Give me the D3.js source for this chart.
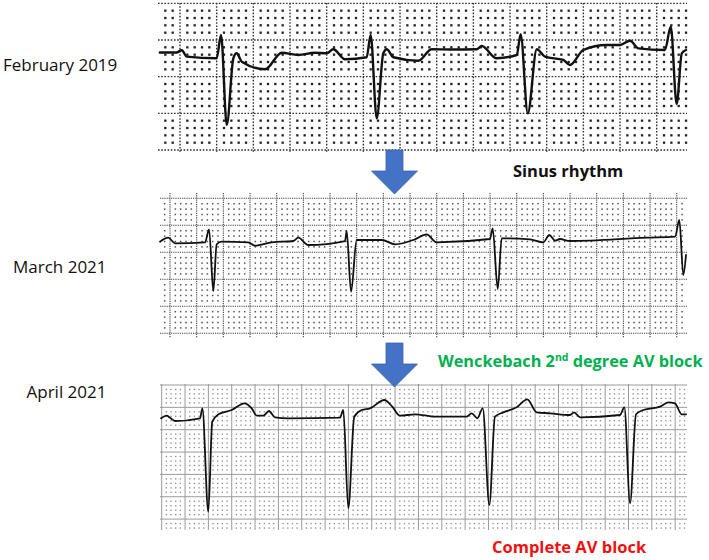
<!DOCTYPE html>
<html><head><meta charset="utf-8">
<script src="https://cdn.jsdelivr.net/npm/d3@7"></script>
<style>body{margin:0;background:#fff}svg{display:block}</style>
</head><body>
<svg id="c" width="709" height="560"></svg>
<script>
// ---- data: ECG traces (time in s, amplitude in mV relative to baseline) ----
const feb2019T = [0.01,0.10,0.13,0.157,0.32,0.344,0.375,0.411,0.429,0.457,0.584,0.675,0.765,0.856,0.92,0.956,1.02,1.138,1.16,1.193,1.229,1.248,1.284,1.42,1.493,1.60,1.738,1.766,1.847,1.957,1.978,2.017,2.066,2.111,2.211,2.247,2.32,2.447,2.52,2.575,2.62,2.765,2.797,2.829,2.857,2.88];
const feb2019V = [0.00,0.00,0.03,-0.057,-0.079,0.239,-0.989,-0.079,-0.011,-0.125,-0.229,-0.003,-0.034,-0.003,-0.011,0.044,-0.093,-0.065,0.239,-0.897,-0.011,0.044,-0.065,-0.112,0.044,0.04,0.044,0.089,-0.079,-0.034,0.248,-0.829,0.044,-0.057,-0.102,-0.170,0.034,0.102,0.102,0.161,0.057,0.034,0.352,-0.702,-0.011,0.034];

const mar2021T = [0.0,0.062,0.113,0.338,0.368,0.40,0.425,0.463,0.662,0.713,0.838,1.0,1.037,1.112,1.388,1.40,1.433,1.475,1.663,1.763,1.913,2.0,2.063,2.075,2.475,2.495,2.533,2.563,2.775,2.875,2.92,2.963,3.0,3.075,3.65,3.863,3.895,3.925,3.945];
const mar2021V = [-0.004,0.070,-0.033,-0.015,0.226,-0.917,-0.052,-0.004,-0.015,-0.078,-0.015,0.009,0.070,-0.065,0.009,0.194,-0.930,0.028,0.028,-0.052,0.041,0.133,-0.004,-0.015,0.046,0.244,-0.880,0.059,0.041,-0.015,0.120,0.015,0.046,0.009,0.070,0.089,0.398,-0.620,-0.250];

const apr2021T = [0.009,0.057,0.086,0.129,0.343,0.363,0.414,0.448,0.50,0.615,0.723,0.786,0.829,0.885,0.934,0.986,1.10,1.543,1.571,1.614,1.665,1.729,1.80,1.923,1.991,2.057,2.186,2.357,2.629,2.672,2.72,2.766,2.823,2.871,2.943,3.057,3.148,3.229,3.343,3.514,3.549,3.60,3.943,3.98,4.029,4.08,4.143,4.286,4.357,4.414,4.471,4.509];
const apr2021V = [-0.029,0.029,-0.016,-0.090,-0.029,0.195,-2.123,-0.105,0.061,0.157,0.307,0.195,0.029,0.029,0.135,-0.007,-0.029,-0.016,0.157,-2.047,0.007,0.157,0.195,0.381,0.231,0.029,0.061,0.007,0.007,0.083,-0.029,0.195,-1.973,0.007,0.105,0.217,0.397,0.105,0.083,0.045,0.105,-0.007,0.045,0.217,-1.935,0.061,0.157,0.231,0.330,0.307,0.061,0.061];

const dateLabels = ["February 2019", "March 2021", "April 2021"];
const rhythmLabels = ["Sinus rhythm", "Wenckebach 2nd degree AV block", "Complete AV block"];

// ---- layout ----
const svg = d3.select("#c");
const panels = [
  {T: feb2019T, V: feb2019V, x0:158, x1:687, y0:3, y1:152, pxs:183.33, pxmv:73.33, base:52.5,
   gx:180, gy:40, sx:36.67, sy:36.67, style:"p1", lw:2.4},
  {T: mar2021T, V: mar2021V, x0:160, x1:687, y0:193, y1:338, pxs:133.33, pxmv:54, base:241.5,
   gx:170, gy:198.3, sx:26.67, sy:27, style:"p2", lw:1.8},
  {T: apr2021T, V: apr2021V, x0:160, x1:687, y0:384, y1:530, pxs:116.67, pxmv:44.6, base:417,
   gx:161.7, gy:385, sx:23.34, sy:22.35, style:"p3", lw:1.8}
];
const gridStyles = {
  p1:{line:"#333", lw:1.4, dash:"1.6,1.6", dot:"#222", ds:2.3},
  p2:{line:"#444", lw:1.1, dash:"1.2,1", dot:"#555", ds:1.5},
  p3:{line:"#9a9a9a", lw:1, dash:null, dot:"#888", ds:1.3}
};

panels.forEach(p => {
  const g = svg.append("g");
  const gs = gridStyles[p.style];
  // scales: time -> x, mV -> y
  const x = d3.scaleLinear().domain([0, (p.x1 - p.x0) / p.pxs]).range([p.x0, p.x1]);
  const y = d3.scaleLinear().domain([(p.base - p.y1) / p.pxmv, (p.base - p.y0) / p.pxmv]).range([p.y1, p.y0]);
  // grid (paper)
  const vx = [], hy = [];
  for (let v = p.gx - Math.ceil((p.gx - p.x0) / p.sx) * p.sx; v <= p.x1 + 0.1; v += p.sx) vx.push(v);
  for (let v = p.gy - Math.ceil((p.gy - p.y0) / p.sy) * p.sy; v <= p.y1 + 0.1; v += p.sy) hy.push(v);
  const dots = [];
  vx.forEach(cx => { for (let i = 1; i < 5; i++) { const xx = cx + i * p.sx / 5; if (xx < p.x0 || xx > p.x1) continue;
    hy.forEach(cy => { for (let j = 1; j < 5; j++) { const yy = cy + j * p.sy / 5; if (yy < p.y0 || yy > p.y1) continue; dots.push([xx, yy]); } }); } });
  g.selectAll("rect.dot").data(dots).join("rect").attr("class","dot")
    .attr("x", d => d[0] - gs.ds/2).attr("y", d => d[1] - gs.ds/2)
    .attr("width", gs.ds).attr("height", gs.ds).attr("fill", gs.dot);
  g.selectAll("line.v").data(vx.filter(v => v >= p.x0 && v <= p.x1)).join("line").attr("class","v")
    .attr("x1", d => d).attr("x2", d => d).attr("y1", p.y0).attr("y2", p.y1)
    .attr("stroke", gs.line).attr("stroke-width", gs.lw).attr("stroke-dasharray", gs.dash);
  g.selectAll("line.h").data(hy.filter(v => v >= p.y0 && v <= p.y1)).join("line").attr("class","h")
    .attr("y1", d => d).attr("y2", d => d).attr("x1", p.x0).attr("x2", p.x1)
    .attr("stroke", gs.line).attr("stroke-width", gs.lw).attr("stroke-dasharray", gs.dash);
  // trace
  const pts = p.T.map((t, i) => [t, p.V[i]]);
  const line = d3.line().x(d => x(d[0])).y(d => y(d[1])).curve(d3.curveMonotoneX);
  g.append("path").attr("d", line(pts)).attr("fill","none").attr("stroke","#111")
    .attr("stroke-width", p.lw).attr("stroke-linejoin","round").attr("stroke-linecap","round");
});

// date labels
const labelPos = [[3, 71], [13, 273], [26.5, 398]];
svg.selectAll("text.date").data(dateLabels).join("text").attr("class","date")
  .attr("x", (d,i) => labelPos[i][0]).attr("y", (d,i) => labelPos[i][1])
  .attr("font-family","'Open Sans', sans-serif").attr("font-size", 17).attr("fill","#111").text(d => d);

// arrows
const arrowTops = [150, 343];
arrowTops.forEach(top => {
  const cx = 394.5;
  const path = d3.path();
  path.moveTo(cx - 8.5, top); path.lineTo(cx + 8.5, top); path.lineTo(cx + 8.5, top + 21);
  path.lineTo(cx + 23, top + 21); path.lineTo(cx, top + 44); path.lineTo(cx - 23, top + 21);
  path.lineTo(cx - 8.5, top + 21); path.closePath();
  svg.append("path").attr("d", path.toString()).attr("fill","#4472C4").attr("stroke","#3a63ad").attr("stroke-width",0.8);
});

// rhythm labels
const bold = "'Open Sans', sans-serif";
svg.append("text").attr("x", 513).attr("y", 177).attr("font-family", bold).attr("font-weight", 700)
  .attr("font-size", 16.5).attr("fill","#111").text(rhythmLabels[0]);
const w = svg.append("text").attr("x", 438).attr("y", 367).attr("font-family", bold).attr("font-weight", 700)
  .attr("font-size", 16.3).attr("fill","#00B050");
w.append("tspan").text("Wenckebach 2");
w.append("tspan").attr("dy", -6).attr("font-size", 10.5).text("nd");
w.append("tspan").attr("dy", 6).text(" degree AV block");
svg.append("text").attr("x", 492).attr("y", 553).attr("font-family", bold).attr("font-weight", 700)
  .attr("font-size", 16.5).attr("fill","#EE1111").text(rhythmLabels[2]);
</script>
</body></html>
